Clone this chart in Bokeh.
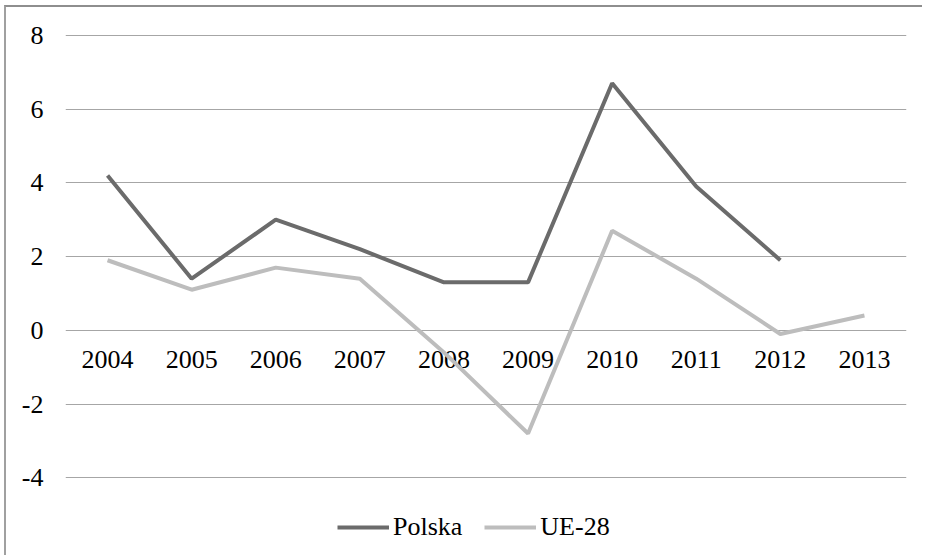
from bokeh.plotting import figure
from bokeh.models import FactorRange, Range1d, FixedTicker, Legend, LegendItem, ColumnDataSource
from bokeh.core.properties import value
from bokeh.embed import file_html
from bokeh.resources import INLINE

years = ["2004", "2005", "2006", "2007", "2008", "2009", "2010", "2011", "2012", "2013"]
polska_years = ["2004", "2005", "2006", "2007", "2008", "2009", "2010", "2011", "2012"]
polska = [4.2, 1.4, 3.0, 2.2, 1.3, 1.3, 6.7, 3.9, 1.9]
ue28 = [1.9, 1.1, 1.7, 1.4, -0.6, -2.8, 2.7, 1.4, -0.1, 0.4]
y_ticks = [-4, -2, 0, 2, 4, 6, 8]

FONT = "Liberation Serif"
FS = "26px"

p = figure(width=918, height=550, x_range=FactorRange(*years, range_padding=0),
           y_range=Range1d(-6.0, 8.05), output_backend="svg", toolbar_location=None,
           min_border_left=59, min_border_right=18, min_border_top=26, min_border_bottom=6)
p.styles = {"border-top": "2px solid #8e8e8e", "border-left": "2px solid #a0a0a0",
            "margin-left": "4px", "margin-top": "5px"}
p.outline_line_color = None
p.xaxis.visible = False
p.xgrid.visible = False
p.ygrid.ticker = FixedTicker(ticks=y_ticks)
p.ygrid.grid_line_color = "#a6a6a6"
p.ygrid.grid_line_width = 1
p.yaxis.ticker = FixedTicker(ticks=y_ticks)
p.yaxis.major_label_overrides = {t: str(t) for t in y_ticks}
p.yaxis.axis_line_color = None
p.yaxis.major_tick_line_color = None
p.yaxis.minor_tick_line_color = None
p.yaxis.major_tick_out = 0
p.yaxis.major_label_standoff = 22
p.yaxis.major_label_text_font = FONT
p.yaxis.major_label_text_font_size = FS
p.yaxis.major_label_text_color = "#000000"

# category labels just below the zero line
lab_src = ColumnDataSource(dict(x=years, y=[0] * len(years), t=years))
p.text(x="x", y="y", text="t", source=lab_src, text_align="center", text_baseline="alphabetic",
       y_offset=29, text_font=value(FONT), text_font_size=FS, text_color="#000000")

r1 = p.line(x=polska_years, y=polska, line_color="#6b6b6b", line_width=4)
r2 = p.line(x=years, y=ue28, line_color="#bdbdbd", line_width=4)

legend = Legend(items=[LegendItem(label="Polska", renderers=[r1]), LegendItem(label="UE-28", renderers=[r2])],
                orientation="horizontal", location=(272, 9), padding=0, margin=0, spacing=22,
                glyph_width=52, label_standoff=4, border_line_alpha=0, background_fill_alpha=0,
                label_text_font=FONT, label_text_font_size=FS, label_text_color="#000000")
p.add_layout(legend, "center")

open("out.html", "w").write(file_html(p, INLINE))
